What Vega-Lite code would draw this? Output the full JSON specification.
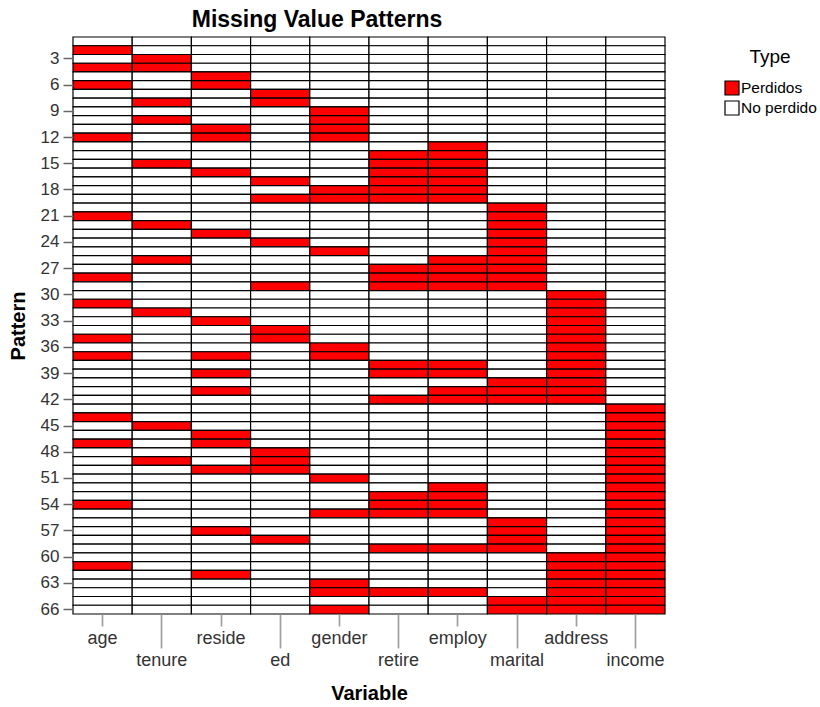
{
"$schema": "https://vega.github.io/schema/vega-lite/v6.json",
"width": 592, "height": 577,
"autosize": {"type": "none"},
"padding": {"left": 73, "top": 37, "right": 155, "bottom": 93},
"background": "white",
"title": {"text": "Missing Value Patterns", "font": "Liberation Sans", "fontSize": 23, "fontWeight": "bold", "color": "#000", "anchor": "middle", "offset": 4, "dx": -52},
"data": {"values": [
{"p":1,"v":"age","t":"No perdido"},{"p":1,"v":"tenure","t":"No perdido"},{"p":1,"v":"reside","t":"No perdido"},{"p":1,"v":"ed","t":"No perdido"},{"p":1,"v":"gender","t":"No perdido"},{"p":1,"v":"retire","t":"No perdido"},{"p":1,"v":"employ","t":"No perdido"},{"p":1,"v":"marital","t":"No perdido"},{"p":1,"v":"address","t":"No perdido"},{"p":1,"v":"income","t":"No perdido"},
{"p":2,"v":"age","t":"Perdidos"},{"p":2,"v":"tenure","t":"No perdido"},{"p":2,"v":"reside","t":"No perdido"},{"p":2,"v":"ed","t":"No perdido"},{"p":2,"v":"gender","t":"No perdido"},{"p":2,"v":"retire","t":"No perdido"},{"p":2,"v":"employ","t":"No perdido"},{"p":2,"v":"marital","t":"No perdido"},{"p":2,"v":"address","t":"No perdido"},{"p":2,"v":"income","t":"No perdido"},
{"p":3,"v":"age","t":"No perdido"},{"p":3,"v":"tenure","t":"Perdidos"},{"p":3,"v":"reside","t":"No perdido"},{"p":3,"v":"ed","t":"No perdido"},{"p":3,"v":"gender","t":"No perdido"},{"p":3,"v":"retire","t":"No perdido"},{"p":3,"v":"employ","t":"No perdido"},{"p":3,"v":"marital","t":"No perdido"},{"p":3,"v":"address","t":"No perdido"},{"p":3,"v":"income","t":"No perdido"},
{"p":4,"v":"age","t":"Perdidos"},{"p":4,"v":"tenure","t":"Perdidos"},{"p":4,"v":"reside","t":"No perdido"},{"p":4,"v":"ed","t":"No perdido"},{"p":4,"v":"gender","t":"No perdido"},{"p":4,"v":"retire","t":"No perdido"},{"p":4,"v":"employ","t":"No perdido"},{"p":4,"v":"marital","t":"No perdido"},{"p":4,"v":"address","t":"No perdido"},{"p":4,"v":"income","t":"No perdido"},
{"p":5,"v":"age","t":"No perdido"},{"p":5,"v":"tenure","t":"No perdido"},{"p":5,"v":"reside","t":"Perdidos"},{"p":5,"v":"ed","t":"No perdido"},{"p":5,"v":"gender","t":"No perdido"},{"p":5,"v":"retire","t":"No perdido"},{"p":5,"v":"employ","t":"No perdido"},{"p":5,"v":"marital","t":"No perdido"},{"p":5,"v":"address","t":"No perdido"},{"p":5,"v":"income","t":"No perdido"},
{"p":6,"v":"age","t":"Perdidos"},{"p":6,"v":"tenure","t":"No perdido"},{"p":6,"v":"reside","t":"Perdidos"},{"p":6,"v":"ed","t":"No perdido"},{"p":6,"v":"gender","t":"No perdido"},{"p":6,"v":"retire","t":"No perdido"},{"p":6,"v":"employ","t":"No perdido"},{"p":6,"v":"marital","t":"No perdido"},{"p":6,"v":"address","t":"No perdido"},{"p":6,"v":"income","t":"No perdido"},
{"p":7,"v":"age","t":"No perdido"},{"p":7,"v":"tenure","t":"No perdido"},{"p":7,"v":"reside","t":"No perdido"},{"p":7,"v":"ed","t":"Perdidos"},{"p":7,"v":"gender","t":"No perdido"},{"p":7,"v":"retire","t":"No perdido"},{"p":7,"v":"employ","t":"No perdido"},{"p":7,"v":"marital","t":"No perdido"},{"p":7,"v":"address","t":"No perdido"},{"p":7,"v":"income","t":"No perdido"},
{"p":8,"v":"age","t":"No perdido"},{"p":8,"v":"tenure","t":"Perdidos"},{"p":8,"v":"reside","t":"No perdido"},{"p":8,"v":"ed","t":"Perdidos"},{"p":8,"v":"gender","t":"No perdido"},{"p":8,"v":"retire","t":"No perdido"},{"p":8,"v":"employ","t":"No perdido"},{"p":8,"v":"marital","t":"No perdido"},{"p":8,"v":"address","t":"No perdido"},{"p":8,"v":"income","t":"No perdido"},
{"p":9,"v":"age","t":"No perdido"},{"p":9,"v":"tenure","t":"No perdido"},{"p":9,"v":"reside","t":"No perdido"},{"p":9,"v":"ed","t":"No perdido"},{"p":9,"v":"gender","t":"Perdidos"},{"p":9,"v":"retire","t":"No perdido"},{"p":9,"v":"employ","t":"No perdido"},{"p":9,"v":"marital","t":"No perdido"},{"p":9,"v":"address","t":"No perdido"},{"p":9,"v":"income","t":"No perdido"},
{"p":10,"v":"age","t":"No perdido"},{"p":10,"v":"tenure","t":"Perdidos"},{"p":10,"v":"reside","t":"No perdido"},{"p":10,"v":"ed","t":"No perdido"},{"p":10,"v":"gender","t":"Perdidos"},{"p":10,"v":"retire","t":"No perdido"},{"p":10,"v":"employ","t":"No perdido"},{"p":10,"v":"marital","t":"No perdido"},{"p":10,"v":"address","t":"No perdido"},{"p":10,"v":"income","t":"No perdido"},
{"p":11,"v":"age","t":"No perdido"},{"p":11,"v":"tenure","t":"No perdido"},{"p":11,"v":"reside","t":"Perdidos"},{"p":11,"v":"ed","t":"No perdido"},{"p":11,"v":"gender","t":"Perdidos"},{"p":11,"v":"retire","t":"No perdido"},{"p":11,"v":"employ","t":"No perdido"},{"p":11,"v":"marital","t":"No perdido"},{"p":11,"v":"address","t":"No perdido"},{"p":11,"v":"income","t":"No perdido"},
{"p":12,"v":"age","t":"Perdidos"},{"p":12,"v":"tenure","t":"No perdido"},{"p":12,"v":"reside","t":"Perdidos"},{"p":12,"v":"ed","t":"No perdido"},{"p":12,"v":"gender","t":"Perdidos"},{"p":12,"v":"retire","t":"No perdido"},{"p":12,"v":"employ","t":"No perdido"},{"p":12,"v":"marital","t":"No perdido"},{"p":12,"v":"address","t":"No perdido"},{"p":12,"v":"income","t":"No perdido"},
{"p":13,"v":"age","t":"No perdido"},{"p":13,"v":"tenure","t":"No perdido"},{"p":13,"v":"reside","t":"No perdido"},{"p":13,"v":"ed","t":"No perdido"},{"p":13,"v":"gender","t":"No perdido"},{"p":13,"v":"retire","t":"No perdido"},{"p":13,"v":"employ","t":"Perdidos"},{"p":13,"v":"marital","t":"No perdido"},{"p":13,"v":"address","t":"No perdido"},{"p":13,"v":"income","t":"No perdido"},
{"p":14,"v":"age","t":"No perdido"},{"p":14,"v":"tenure","t":"No perdido"},{"p":14,"v":"reside","t":"No perdido"},{"p":14,"v":"ed","t":"No perdido"},{"p":14,"v":"gender","t":"No perdido"},{"p":14,"v":"retire","t":"Perdidos"},{"p":14,"v":"employ","t":"Perdidos"},{"p":14,"v":"marital","t":"No perdido"},{"p":14,"v":"address","t":"No perdido"},{"p":14,"v":"income","t":"No perdido"},
{"p":15,"v":"age","t":"No perdido"},{"p":15,"v":"tenure","t":"Perdidos"},{"p":15,"v":"reside","t":"No perdido"},{"p":15,"v":"ed","t":"No perdido"},{"p":15,"v":"gender","t":"No perdido"},{"p":15,"v":"retire","t":"Perdidos"},{"p":15,"v":"employ","t":"Perdidos"},{"p":15,"v":"marital","t":"No perdido"},{"p":15,"v":"address","t":"No perdido"},{"p":15,"v":"income","t":"No perdido"},
{"p":16,"v":"age","t":"No perdido"},{"p":16,"v":"tenure","t":"No perdido"},{"p":16,"v":"reside","t":"Perdidos"},{"p":16,"v":"ed","t":"No perdido"},{"p":16,"v":"gender","t":"No perdido"},{"p":16,"v":"retire","t":"Perdidos"},{"p":16,"v":"employ","t":"Perdidos"},{"p":16,"v":"marital","t":"No perdido"},{"p":16,"v":"address","t":"No perdido"},{"p":16,"v":"income","t":"No perdido"},
{"p":17,"v":"age","t":"No perdido"},{"p":17,"v":"tenure","t":"No perdido"},{"p":17,"v":"reside","t":"No perdido"},{"p":17,"v":"ed","t":"Perdidos"},{"p":17,"v":"gender","t":"No perdido"},{"p":17,"v":"retire","t":"Perdidos"},{"p":17,"v":"employ","t":"Perdidos"},{"p":17,"v":"marital","t":"No perdido"},{"p":17,"v":"address","t":"No perdido"},{"p":17,"v":"income","t":"No perdido"},
{"p":18,"v":"age","t":"No perdido"},{"p":18,"v":"tenure","t":"No perdido"},{"p":18,"v":"reside","t":"No perdido"},{"p":18,"v":"ed","t":"No perdido"},{"p":18,"v":"gender","t":"Perdidos"},{"p":18,"v":"retire","t":"Perdidos"},{"p":18,"v":"employ","t":"Perdidos"},{"p":18,"v":"marital","t":"No perdido"},{"p":18,"v":"address","t":"No perdido"},{"p":18,"v":"income","t":"No perdido"},
{"p":19,"v":"age","t":"No perdido"},{"p":19,"v":"tenure","t":"No perdido"},{"p":19,"v":"reside","t":"No perdido"},{"p":19,"v":"ed","t":"Perdidos"},{"p":19,"v":"gender","t":"Perdidos"},{"p":19,"v":"retire","t":"Perdidos"},{"p":19,"v":"employ","t":"Perdidos"},{"p":19,"v":"marital","t":"No perdido"},{"p":19,"v":"address","t":"No perdido"},{"p":19,"v":"income","t":"No perdido"},
{"p":20,"v":"age","t":"No perdido"},{"p":20,"v":"tenure","t":"No perdido"},{"p":20,"v":"reside","t":"No perdido"},{"p":20,"v":"ed","t":"No perdido"},{"p":20,"v":"gender","t":"No perdido"},{"p":20,"v":"retire","t":"No perdido"},{"p":20,"v":"employ","t":"No perdido"},{"p":20,"v":"marital","t":"Perdidos"},{"p":20,"v":"address","t":"No perdido"},{"p":20,"v":"income","t":"No perdido"},
{"p":21,"v":"age","t":"Perdidos"},{"p":21,"v":"tenure","t":"No perdido"},{"p":21,"v":"reside","t":"No perdido"},{"p":21,"v":"ed","t":"No perdido"},{"p":21,"v":"gender","t":"No perdido"},{"p":21,"v":"retire","t":"No perdido"},{"p":21,"v":"employ","t":"No perdido"},{"p":21,"v":"marital","t":"Perdidos"},{"p":21,"v":"address","t":"No perdido"},{"p":21,"v":"income","t":"No perdido"},
{"p":22,"v":"age","t":"No perdido"},{"p":22,"v":"tenure","t":"Perdidos"},{"p":22,"v":"reside","t":"No perdido"},{"p":22,"v":"ed","t":"No perdido"},{"p":22,"v":"gender","t":"No perdido"},{"p":22,"v":"retire","t":"No perdido"},{"p":22,"v":"employ","t":"No perdido"},{"p":22,"v":"marital","t":"Perdidos"},{"p":22,"v":"address","t":"No perdido"},{"p":22,"v":"income","t":"No perdido"},
{"p":23,"v":"age","t":"No perdido"},{"p":23,"v":"tenure","t":"No perdido"},{"p":23,"v":"reside","t":"Perdidos"},{"p":23,"v":"ed","t":"No perdido"},{"p":23,"v":"gender","t":"No perdido"},{"p":23,"v":"retire","t":"No perdido"},{"p":23,"v":"employ","t":"No perdido"},{"p":23,"v":"marital","t":"Perdidos"},{"p":23,"v":"address","t":"No perdido"},{"p":23,"v":"income","t":"No perdido"},
{"p":24,"v":"age","t":"No perdido"},{"p":24,"v":"tenure","t":"No perdido"},{"p":24,"v":"reside","t":"No perdido"},{"p":24,"v":"ed","t":"Perdidos"},{"p":24,"v":"gender","t":"No perdido"},{"p":24,"v":"retire","t":"No perdido"},{"p":24,"v":"employ","t":"No perdido"},{"p":24,"v":"marital","t":"Perdidos"},{"p":24,"v":"address","t":"No perdido"},{"p":24,"v":"income","t":"No perdido"},
{"p":25,"v":"age","t":"No perdido"},{"p":25,"v":"tenure","t":"No perdido"},{"p":25,"v":"reside","t":"No perdido"},{"p":25,"v":"ed","t":"No perdido"},{"p":25,"v":"gender","t":"Perdidos"},{"p":25,"v":"retire","t":"No perdido"},{"p":25,"v":"employ","t":"No perdido"},{"p":25,"v":"marital","t":"Perdidos"},{"p":25,"v":"address","t":"No perdido"},{"p":25,"v":"income","t":"No perdido"},
{"p":26,"v":"age","t":"No perdido"},{"p":26,"v":"tenure","t":"Perdidos"},{"p":26,"v":"reside","t":"No perdido"},{"p":26,"v":"ed","t":"No perdido"},{"p":26,"v":"gender","t":"No perdido"},{"p":26,"v":"retire","t":"No perdido"},{"p":26,"v":"employ","t":"Perdidos"},{"p":26,"v":"marital","t":"Perdidos"},{"p":26,"v":"address","t":"No perdido"},{"p":26,"v":"income","t":"No perdido"},
{"p":27,"v":"age","t":"No perdido"},{"p":27,"v":"tenure","t":"No perdido"},{"p":27,"v":"reside","t":"No perdido"},{"p":27,"v":"ed","t":"No perdido"},{"p":27,"v":"gender","t":"No perdido"},{"p":27,"v":"retire","t":"Perdidos"},{"p":27,"v":"employ","t":"Perdidos"},{"p":27,"v":"marital","t":"Perdidos"},{"p":27,"v":"address","t":"No perdido"},{"p":27,"v":"income","t":"No perdido"},
{"p":28,"v":"age","t":"Perdidos"},{"p":28,"v":"tenure","t":"No perdido"},{"p":28,"v":"reside","t":"No perdido"},{"p":28,"v":"ed","t":"No perdido"},{"p":28,"v":"gender","t":"No perdido"},{"p":28,"v":"retire","t":"Perdidos"},{"p":28,"v":"employ","t":"Perdidos"},{"p":28,"v":"marital","t":"Perdidos"},{"p":28,"v":"address","t":"No perdido"},{"p":28,"v":"income","t":"No perdido"},
{"p":29,"v":"age","t":"No perdido"},{"p":29,"v":"tenure","t":"No perdido"},{"p":29,"v":"reside","t":"No perdido"},{"p":29,"v":"ed","t":"Perdidos"},{"p":29,"v":"gender","t":"No perdido"},{"p":29,"v":"retire","t":"Perdidos"},{"p":29,"v":"employ","t":"Perdidos"},{"p":29,"v":"marital","t":"Perdidos"},{"p":29,"v":"address","t":"No perdido"},{"p":29,"v":"income","t":"No perdido"},
{"p":30,"v":"age","t":"No perdido"},{"p":30,"v":"tenure","t":"No perdido"},{"p":30,"v":"reside","t":"No perdido"},{"p":30,"v":"ed","t":"No perdido"},{"p":30,"v":"gender","t":"No perdido"},{"p":30,"v":"retire","t":"No perdido"},{"p":30,"v":"employ","t":"No perdido"},{"p":30,"v":"marital","t":"No perdido"},{"p":30,"v":"address","t":"Perdidos"},{"p":30,"v":"income","t":"No perdido"},
{"p":31,"v":"age","t":"Perdidos"},{"p":31,"v":"tenure","t":"No perdido"},{"p":31,"v":"reside","t":"No perdido"},{"p":31,"v":"ed","t":"No perdido"},{"p":31,"v":"gender","t":"No perdido"},{"p":31,"v":"retire","t":"No perdido"},{"p":31,"v":"employ","t":"No perdido"},{"p":31,"v":"marital","t":"No perdido"},{"p":31,"v":"address","t":"Perdidos"},{"p":31,"v":"income","t":"No perdido"},
{"p":32,"v":"age","t":"No perdido"},{"p":32,"v":"tenure","t":"Perdidos"},{"p":32,"v":"reside","t":"No perdido"},{"p":32,"v":"ed","t":"No perdido"},{"p":32,"v":"gender","t":"No perdido"},{"p":32,"v":"retire","t":"No perdido"},{"p":32,"v":"employ","t":"No perdido"},{"p":32,"v":"marital","t":"No perdido"},{"p":32,"v":"address","t":"Perdidos"},{"p":32,"v":"income","t":"No perdido"},
{"p":33,"v":"age","t":"No perdido"},{"p":33,"v":"tenure","t":"No perdido"},{"p":33,"v":"reside","t":"Perdidos"},{"p":33,"v":"ed","t":"No perdido"},{"p":33,"v":"gender","t":"No perdido"},{"p":33,"v":"retire","t":"No perdido"},{"p":33,"v":"employ","t":"No perdido"},{"p":33,"v":"marital","t":"No perdido"},{"p":33,"v":"address","t":"Perdidos"},{"p":33,"v":"income","t":"No perdido"},
{"p":34,"v":"age","t":"No perdido"},{"p":34,"v":"tenure","t":"No perdido"},{"p":34,"v":"reside","t":"No perdido"},{"p":34,"v":"ed","t":"Perdidos"},{"p":34,"v":"gender","t":"No perdido"},{"p":34,"v":"retire","t":"No perdido"},{"p":34,"v":"employ","t":"No perdido"},{"p":34,"v":"marital","t":"No perdido"},{"p":34,"v":"address","t":"Perdidos"},{"p":34,"v":"income","t":"No perdido"},
{"p":35,"v":"age","t":"Perdidos"},{"p":35,"v":"tenure","t":"No perdido"},{"p":35,"v":"reside","t":"No perdido"},{"p":35,"v":"ed","t":"Perdidos"},{"p":35,"v":"gender","t":"No perdido"},{"p":35,"v":"retire","t":"No perdido"},{"p":35,"v":"employ","t":"No perdido"},{"p":35,"v":"marital","t":"No perdido"},{"p":35,"v":"address","t":"Perdidos"},{"p":35,"v":"income","t":"No perdido"},
{"p":36,"v":"age","t":"No perdido"},{"p":36,"v":"tenure","t":"No perdido"},{"p":36,"v":"reside","t":"No perdido"},{"p":36,"v":"ed","t":"No perdido"},{"p":36,"v":"gender","t":"Perdidos"},{"p":36,"v":"retire","t":"No perdido"},{"p":36,"v":"employ","t":"No perdido"},{"p":36,"v":"marital","t":"No perdido"},{"p":36,"v":"address","t":"Perdidos"},{"p":36,"v":"income","t":"No perdido"},
{"p":37,"v":"age","t":"Perdidos"},{"p":37,"v":"tenure","t":"No perdido"},{"p":37,"v":"reside","t":"Perdidos"},{"p":37,"v":"ed","t":"No perdido"},{"p":37,"v":"gender","t":"Perdidos"},{"p":37,"v":"retire","t":"No perdido"},{"p":37,"v":"employ","t":"No perdido"},{"p":37,"v":"marital","t":"No perdido"},{"p":37,"v":"address","t":"Perdidos"},{"p":37,"v":"income","t":"No perdido"},
{"p":38,"v":"age","t":"No perdido"},{"p":38,"v":"tenure","t":"No perdido"},{"p":38,"v":"reside","t":"No perdido"},{"p":38,"v":"ed","t":"No perdido"},{"p":38,"v":"gender","t":"No perdido"},{"p":38,"v":"retire","t":"Perdidos"},{"p":38,"v":"employ","t":"Perdidos"},{"p":38,"v":"marital","t":"No perdido"},{"p":38,"v":"address","t":"Perdidos"},{"p":38,"v":"income","t":"No perdido"},
{"p":39,"v":"age","t":"No perdido"},{"p":39,"v":"tenure","t":"No perdido"},{"p":39,"v":"reside","t":"Perdidos"},{"p":39,"v":"ed","t":"No perdido"},{"p":39,"v":"gender","t":"No perdido"},{"p":39,"v":"retire","t":"Perdidos"},{"p":39,"v":"employ","t":"Perdidos"},{"p":39,"v":"marital","t":"No perdido"},{"p":39,"v":"address","t":"Perdidos"},{"p":39,"v":"income","t":"No perdido"},
{"p":40,"v":"age","t":"No perdido"},{"p":40,"v":"tenure","t":"No perdido"},{"p":40,"v":"reside","t":"No perdido"},{"p":40,"v":"ed","t":"No perdido"},{"p":40,"v":"gender","t":"No perdido"},{"p":40,"v":"retire","t":"No perdido"},{"p":40,"v":"employ","t":"No perdido"},{"p":40,"v":"marital","t":"Perdidos"},{"p":40,"v":"address","t":"Perdidos"},{"p":40,"v":"income","t":"No perdido"},
{"p":41,"v":"age","t":"No perdido"},{"p":41,"v":"tenure","t":"No perdido"},{"p":41,"v":"reside","t":"Perdidos"},{"p":41,"v":"ed","t":"No perdido"},{"p":41,"v":"gender","t":"No perdido"},{"p":41,"v":"retire","t":"No perdido"},{"p":41,"v":"employ","t":"Perdidos"},{"p":41,"v":"marital","t":"Perdidos"},{"p":41,"v":"address","t":"Perdidos"},{"p":41,"v":"income","t":"No perdido"},
{"p":42,"v":"age","t":"No perdido"},{"p":42,"v":"tenure","t":"No perdido"},{"p":42,"v":"reside","t":"No perdido"},{"p":42,"v":"ed","t":"No perdido"},{"p":42,"v":"gender","t":"No perdido"},{"p":42,"v":"retire","t":"Perdidos"},{"p":42,"v":"employ","t":"Perdidos"},{"p":42,"v":"marital","t":"Perdidos"},{"p":42,"v":"address","t":"Perdidos"},{"p":42,"v":"income","t":"No perdido"},
{"p":43,"v":"age","t":"No perdido"},{"p":43,"v":"tenure","t":"No perdido"},{"p":43,"v":"reside","t":"No perdido"},{"p":43,"v":"ed","t":"No perdido"},{"p":43,"v":"gender","t":"No perdido"},{"p":43,"v":"retire","t":"No perdido"},{"p":43,"v":"employ","t":"No perdido"},{"p":43,"v":"marital","t":"No perdido"},{"p":43,"v":"address","t":"No perdido"},{"p":43,"v":"income","t":"Perdidos"},
{"p":44,"v":"age","t":"Perdidos"},{"p":44,"v":"tenure","t":"No perdido"},{"p":44,"v":"reside","t":"No perdido"},{"p":44,"v":"ed","t":"No perdido"},{"p":44,"v":"gender","t":"No perdido"},{"p":44,"v":"retire","t":"No perdido"},{"p":44,"v":"employ","t":"No perdido"},{"p":44,"v":"marital","t":"No perdido"},{"p":44,"v":"address","t":"No perdido"},{"p":44,"v":"income","t":"Perdidos"},
{"p":45,"v":"age","t":"No perdido"},{"p":45,"v":"tenure","t":"Perdidos"},{"p":45,"v":"reside","t":"No perdido"},{"p":45,"v":"ed","t":"No perdido"},{"p":45,"v":"gender","t":"No perdido"},{"p":45,"v":"retire","t":"No perdido"},{"p":45,"v":"employ","t":"No perdido"},{"p":45,"v":"marital","t":"No perdido"},{"p":45,"v":"address","t":"No perdido"},{"p":45,"v":"income","t":"Perdidos"},
{"p":46,"v":"age","t":"No perdido"},{"p":46,"v":"tenure","t":"No perdido"},{"p":46,"v":"reside","t":"Perdidos"},{"p":46,"v":"ed","t":"No perdido"},{"p":46,"v":"gender","t":"No perdido"},{"p":46,"v":"retire","t":"No perdido"},{"p":46,"v":"employ","t":"No perdido"},{"p":46,"v":"marital","t":"No perdido"},{"p":46,"v":"address","t":"No perdido"},{"p":46,"v":"income","t":"Perdidos"},
{"p":47,"v":"age","t":"Perdidos"},{"p":47,"v":"tenure","t":"No perdido"},{"p":47,"v":"reside","t":"Perdidos"},{"p":47,"v":"ed","t":"No perdido"},{"p":47,"v":"gender","t":"No perdido"},{"p":47,"v":"retire","t":"No perdido"},{"p":47,"v":"employ","t":"No perdido"},{"p":47,"v":"marital","t":"No perdido"},{"p":47,"v":"address","t":"No perdido"},{"p":47,"v":"income","t":"Perdidos"},
{"p":48,"v":"age","t":"No perdido"},{"p":48,"v":"tenure","t":"No perdido"},{"p":48,"v":"reside","t":"No perdido"},{"p":48,"v":"ed","t":"Perdidos"},{"p":48,"v":"gender","t":"No perdido"},{"p":48,"v":"retire","t":"No perdido"},{"p":48,"v":"employ","t":"No perdido"},{"p":48,"v":"marital","t":"No perdido"},{"p":48,"v":"address","t":"No perdido"},{"p":48,"v":"income","t":"Perdidos"},
{"p":49,"v":"age","t":"No perdido"},{"p":49,"v":"tenure","t":"Perdidos"},{"p":49,"v":"reside","t":"No perdido"},{"p":49,"v":"ed","t":"Perdidos"},{"p":49,"v":"gender","t":"No perdido"},{"p":49,"v":"retire","t":"No perdido"},{"p":49,"v":"employ","t":"No perdido"},{"p":49,"v":"marital","t":"No perdido"},{"p":49,"v":"address","t":"No perdido"},{"p":49,"v":"income","t":"Perdidos"},
{"p":50,"v":"age","t":"No perdido"},{"p":50,"v":"tenure","t":"No perdido"},{"p":50,"v":"reside","t":"Perdidos"},{"p":50,"v":"ed","t":"Perdidos"},{"p":50,"v":"gender","t":"No perdido"},{"p":50,"v":"retire","t":"No perdido"},{"p":50,"v":"employ","t":"No perdido"},{"p":50,"v":"marital","t":"No perdido"},{"p":50,"v":"address","t":"No perdido"},{"p":50,"v":"income","t":"Perdidos"},
{"p":51,"v":"age","t":"No perdido"},{"p":51,"v":"tenure","t":"No perdido"},{"p":51,"v":"reside","t":"No perdido"},{"p":51,"v":"ed","t":"No perdido"},{"p":51,"v":"gender","t":"Perdidos"},{"p":51,"v":"retire","t":"No perdido"},{"p":51,"v":"employ","t":"No perdido"},{"p":51,"v":"marital","t":"No perdido"},{"p":51,"v":"address","t":"No perdido"},{"p":51,"v":"income","t":"Perdidos"},
{"p":52,"v":"age","t":"No perdido"},{"p":52,"v":"tenure","t":"No perdido"},{"p":52,"v":"reside","t":"No perdido"},{"p":52,"v":"ed","t":"No perdido"},{"p":52,"v":"gender","t":"No perdido"},{"p":52,"v":"retire","t":"No perdido"},{"p":52,"v":"employ","t":"Perdidos"},{"p":52,"v":"marital","t":"No perdido"},{"p":52,"v":"address","t":"No perdido"},{"p":52,"v":"income","t":"Perdidos"},
{"p":53,"v":"age","t":"No perdido"},{"p":53,"v":"tenure","t":"No perdido"},{"p":53,"v":"reside","t":"No perdido"},{"p":53,"v":"ed","t":"No perdido"},{"p":53,"v":"gender","t":"No perdido"},{"p":53,"v":"retire","t":"Perdidos"},{"p":53,"v":"employ","t":"Perdidos"},{"p":53,"v":"marital","t":"No perdido"},{"p":53,"v":"address","t":"No perdido"},{"p":53,"v":"income","t":"Perdidos"},
{"p":54,"v":"age","t":"Perdidos"},{"p":54,"v":"tenure","t":"No perdido"},{"p":54,"v":"reside","t":"No perdido"},{"p":54,"v":"ed","t":"No perdido"},{"p":54,"v":"gender","t":"No perdido"},{"p":54,"v":"retire","t":"Perdidos"},{"p":54,"v":"employ","t":"Perdidos"},{"p":54,"v":"marital","t":"No perdido"},{"p":54,"v":"address","t":"No perdido"},{"p":54,"v":"income","t":"Perdidos"},
{"p":55,"v":"age","t":"No perdido"},{"p":55,"v":"tenure","t":"No perdido"},{"p":55,"v":"reside","t":"No perdido"},{"p":55,"v":"ed","t":"No perdido"},{"p":55,"v":"gender","t":"Perdidos"},{"p":55,"v":"retire","t":"Perdidos"},{"p":55,"v":"employ","t":"Perdidos"},{"p":55,"v":"marital","t":"No perdido"},{"p":55,"v":"address","t":"No perdido"},{"p":55,"v":"income","t":"Perdidos"},
{"p":56,"v":"age","t":"No perdido"},{"p":56,"v":"tenure","t":"No perdido"},{"p":56,"v":"reside","t":"No perdido"},{"p":56,"v":"ed","t":"No perdido"},{"p":56,"v":"gender","t":"No perdido"},{"p":56,"v":"retire","t":"No perdido"},{"p":56,"v":"employ","t":"No perdido"},{"p":56,"v":"marital","t":"Perdidos"},{"p":56,"v":"address","t":"No perdido"},{"p":56,"v":"income","t":"Perdidos"},
{"p":57,"v":"age","t":"No perdido"},{"p":57,"v":"tenure","t":"No perdido"},{"p":57,"v":"reside","t":"Perdidos"},{"p":57,"v":"ed","t":"No perdido"},{"p":57,"v":"gender","t":"No perdido"},{"p":57,"v":"retire","t":"No perdido"},{"p":57,"v":"employ","t":"No perdido"},{"p":57,"v":"marital","t":"Perdidos"},{"p":57,"v":"address","t":"No perdido"},{"p":57,"v":"income","t":"Perdidos"},
{"p":58,"v":"age","t":"No perdido"},{"p":58,"v":"tenure","t":"No perdido"},{"p":58,"v":"reside","t":"No perdido"},{"p":58,"v":"ed","t":"Perdidos"},{"p":58,"v":"gender","t":"No perdido"},{"p":58,"v":"retire","t":"No perdido"},{"p":58,"v":"employ","t":"No perdido"},{"p":58,"v":"marital","t":"Perdidos"},{"p":58,"v":"address","t":"No perdido"},{"p":58,"v":"income","t":"Perdidos"},
{"p":59,"v":"age","t":"No perdido"},{"p":59,"v":"tenure","t":"No perdido"},{"p":59,"v":"reside","t":"No perdido"},{"p":59,"v":"ed","t":"No perdido"},{"p":59,"v":"gender","t":"No perdido"},{"p":59,"v":"retire","t":"Perdidos"},{"p":59,"v":"employ","t":"Perdidos"},{"p":59,"v":"marital","t":"Perdidos"},{"p":59,"v":"address","t":"No perdido"},{"p":59,"v":"income","t":"Perdidos"},
{"p":60,"v":"age","t":"No perdido"},{"p":60,"v":"tenure","t":"No perdido"},{"p":60,"v":"reside","t":"No perdido"},{"p":60,"v":"ed","t":"No perdido"},{"p":60,"v":"gender","t":"No perdido"},{"p":60,"v":"retire","t":"No perdido"},{"p":60,"v":"employ","t":"No perdido"},{"p":60,"v":"marital","t":"No perdido"},{"p":60,"v":"address","t":"Perdidos"},{"p":60,"v":"income","t":"Perdidos"},
{"p":61,"v":"age","t":"Perdidos"},{"p":61,"v":"tenure","t":"No perdido"},{"p":61,"v":"reside","t":"No perdido"},{"p":61,"v":"ed","t":"No perdido"},{"p":61,"v":"gender","t":"No perdido"},{"p":61,"v":"retire","t":"No perdido"},{"p":61,"v":"employ","t":"No perdido"},{"p":61,"v":"marital","t":"No perdido"},{"p":61,"v":"address","t":"Perdidos"},{"p":61,"v":"income","t":"Perdidos"},
{"p":62,"v":"age","t":"No perdido"},{"p":62,"v":"tenure","t":"No perdido"},{"p":62,"v":"reside","t":"Perdidos"},{"p":62,"v":"ed","t":"No perdido"},{"p":62,"v":"gender","t":"No perdido"},{"p":62,"v":"retire","t":"No perdido"},{"p":62,"v":"employ","t":"No perdido"},{"p":62,"v":"marital","t":"No perdido"},{"p":62,"v":"address","t":"Perdidos"},{"p":62,"v":"income","t":"Perdidos"},
{"p":63,"v":"age","t":"No perdido"},{"p":63,"v":"tenure","t":"No perdido"},{"p":63,"v":"reside","t":"No perdido"},{"p":63,"v":"ed","t":"No perdido"},{"p":63,"v":"gender","t":"Perdidos"},{"p":63,"v":"retire","t":"No perdido"},{"p":63,"v":"employ","t":"No perdido"},{"p":63,"v":"marital","t":"No perdido"},{"p":63,"v":"address","t":"Perdidos"},{"p":63,"v":"income","t":"Perdidos"},
{"p":64,"v":"age","t":"No perdido"},{"p":64,"v":"tenure","t":"No perdido"},{"p":64,"v":"reside","t":"No perdido"},{"p":64,"v":"ed","t":"No perdido"},{"p":64,"v":"gender","t":"Perdidos"},{"p":64,"v":"retire","t":"Perdidos"},{"p":64,"v":"employ","t":"Perdidos"},{"p":64,"v":"marital","t":"No perdido"},{"p":64,"v":"address","t":"Perdidos"},{"p":64,"v":"income","t":"Perdidos"},
{"p":65,"v":"age","t":"No perdido"},{"p":65,"v":"tenure","t":"No perdido"},{"p":65,"v":"reside","t":"No perdido"},{"p":65,"v":"ed","t":"No perdido"},{"p":65,"v":"gender","t":"No perdido"},{"p":65,"v":"retire","t":"No perdido"},{"p":65,"v":"employ","t":"No perdido"},{"p":65,"v":"marital","t":"Perdidos"},{"p":65,"v":"address","t":"Perdidos"},{"p":65,"v":"income","t":"Perdidos"},
{"p":66,"v":"age","t":"No perdido"},{"p":66,"v":"tenure","t":"No perdido"},{"p":66,"v":"reside","t":"No perdido"},{"p":66,"v":"ed","t":"No perdido"},{"p":66,"v":"gender","t":"Perdidos"},{"p":66,"v":"retire","t":"No perdido"},{"p":66,"v":"employ","t":"No perdido"},{"p":66,"v":"marital","t":"Perdidos"},{"p":66,"v":"address","t":"Perdidos"},{"p":66,"v":"income","t":"Perdidos"}
]},
"mark": {"type": "rect", "stroke": "#000000", "strokeWidth": 1.2},
"encoding": {
  "x": {"field": "v", "type": "nominal",
    "sort": ["age","tenure","reside","ed","gender","retire","employ","marital","address","income"],
    "scale": {"paddingInner": 0, "paddingOuter": 0},
    "axis": {"title": "Variable", "titleFont": "Liberation Sans", "titleFontSize": 20, "titleFontWeight": "bold", "titleColor": "#000", "titlePadding": 14,
      "labelAngle": 0, "labelFont": "Liberation Sans", "labelFontSize": 18, "labelColor": "#333", "labelPadding": 3, "labelBaseline": "top",
      "domain": false, "offset": 0, "tickColor": "#a0a0a0", "tickWidth": 1.7,
      "tickSize": {"condition": {"test": "indexof(['tenure','ed','retire','marital','income'], datum.value) >= 0", "value": 34}, "value": 12}}},
  "y": {"field": "p", "type": "ordinal",
    "scale": {"paddingInner": 0, "paddingOuter": 0},
    "axis": {"title": "Pattern", "titleFont": "Liberation Sans", "titleFontSize": 20, "titleFontWeight": "bold", "titleColor": "#000", "titlePadding": 12,
      "values": [3,6,9,12,15,18,21,24,27,30,33,36,39,42,45,48,51,54,57,60,63,66],
      "labelFont": "Liberation Sans", "labelFontSize": 17, "labelColor": "#333", "labelPadding": 4,
      "domain": false, "tickColor": "#666", "tickSize": 10, "tickWidth": 1.5}},
  "fill": {"field": "t", "type": "nominal",
    "scale": {"domain": ["Perdidos","No perdido"], "range": ["#ff0000","#ffffff"]},
    "legend": {"title": "Type", "orient": "none", "legendX": 651, "legendY": 11,
      "titleFont": "Liberation Sans", "titleFontSize": 19, "titleFontWeight": "normal", "titleColor": "#000", "titleAnchor": "middle", "titlePadding": 13,
      "labelFont": "Liberation Sans", "labelFontSize": 15.5, "labelColor": "#000", "labelOffset": 1,
      "symbolType": "square", "symbolSize": 196, "symbolStrokeColor": "#000", "symbolStrokeWidth": 1.2, "rowPadding": 0}}
},
"config": {"view": {"stroke": null}}
}
